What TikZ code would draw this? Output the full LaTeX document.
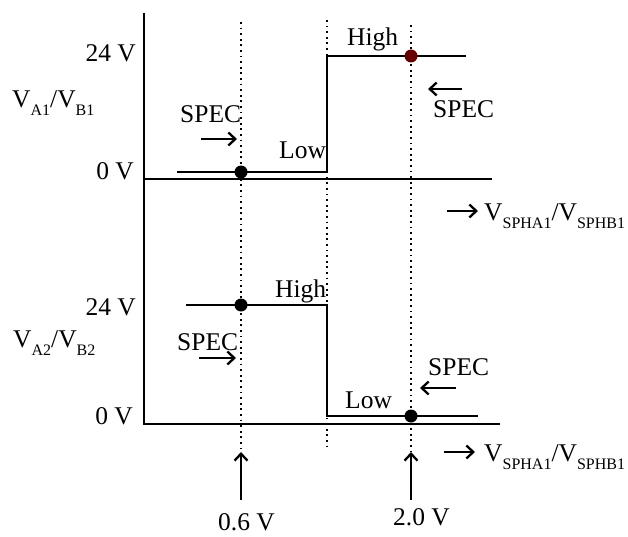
\documentclass[tikz,border=0pt]{standalone}
\usepackage{fontspec}
\setmainfont{Liberation Serif}
\usetikzlibrary{arrows.meta}

\newcommand{\lowsub}[1]{\raisebox{-8pt}{\fontsize{16}{16}\selectfont #1}}

\tikzset{
	lbl/.style = {inner sep = 0pt, font = \fontsize{25.5}{28}\selectfont},
	level/.style = {line width = 2.4pt},
	axisline/.style = {line width = 2.4pt},
	guide/.style = {line width = 1.8pt, dash pattern = on 1.8pt off 3.8pt},
	pointer/.style = {line width = 2.3pt, -{Straight Barb[length = 7pt, width = 13pt, line width = 2.3pt]}},
}

\begin{document}
\begin{tikzpicture}[x = 1pt, y = -1pt]
	\useasboundingbox (0, 0) rectangle (628, 537);

	% axes
	\coordinate[](top) at (144, 13);
	\coordinate[](o) at (144, 424);
	\coordinate[](mid) at (144, 179);
	\draw[axisline] (top)--(o)--(500, 424);
	\draw[axisline] (mid)--(492, 179);

	% guide lines
	\draw[guide] (241, 22)--(241, 452);
	\draw[guide] (327, 20)--(327, 447);
	\draw[guide] (411, 25)--(411, 452);

	% upper trace
	\coordinate[](ua) at (241, 172);
	\coordinate[](ub) at (411, 56);
	\draw[level] (177, 172)--(327, 172)--(327, 56)--(466, 56);
	\fill (ua) circle (6.5);
	\fill[black!60!red] (ub) circle (6.5);

	% lower trace
	\coordinate[](la) at (241, 305);
	\coordinate[](lb) at (411, 416);
	\draw[level] (186, 305)--(327, 305)--(327, 416)--(478, 416);
	\fill (la) circle (6.5);
	\fill (lb) circle (6.5);

	% level labels
	\node[lbl, anchor = base east] at (136, 62) {24 V};
	\node[lbl, anchor = base east] at (134, 180) {0 V};
	\node[lbl, anchor = base east] at (136, 315) {24 V};
	\node[lbl, anchor = base east] at (133, 424) {0 V};
	\node[lbl, anchor = base west] at (12, 108) {V\lowsub{A1}/V\lowsub{B1}};
	\node[lbl, anchor = base west] at (13, 347) {V\lowsub{A2}/V\lowsub{B2}};

	\node[lbl, anchor = base west] at (347, 46) {High};
	\node[lbl, anchor = base west] at (279, 159) {Low};
	\node[lbl, anchor = base west] at (275, 297) {High};
	\node[lbl, anchor = base west] at (345, 408) {Low};

	% spec marks
	\node[lbl, anchor = base west] at (180, 123) {SPEC};
	\draw[pointer] (201, 139)--(237, 139);
	\node[lbl, anchor = base west] at (433, 118) {SPEC};
	\draw[pointer] (462, 89)--(428, 89);
	\node[lbl, anchor = base west] at (177, 350) {SPEC};
	\draw[pointer] (199, 358)--(236, 358);
	\node[lbl, anchor = base west] at (428, 375) {SPEC};
	\draw[pointer] (456, 388)--(420, 388);

	% input axis
	\draw[pointer] (447, 211)--(478, 211);
	\node[lbl, anchor = base west] at (484, 220) {V\lowsub{SPHA1}/V\lowsub{SPHB1}};
	\draw[pointer] (444, 452)--(475, 452);
	\node[lbl, anchor = base west] at (484, 461) {V\lowsub{SPHA1}/V\lowsub{SPHB1}};

	% thresholds
	\draw[pointer] (241, 500)--(241, 452);
	\node[lbl, anchor = base west] at (218, 530) {0.6 V};
	\draw[pointer] (411, 500)--(411, 452);
	\node[lbl, anchor = base west] at (393, 525) {2.0 V};
\end{tikzpicture}
\end{document}
